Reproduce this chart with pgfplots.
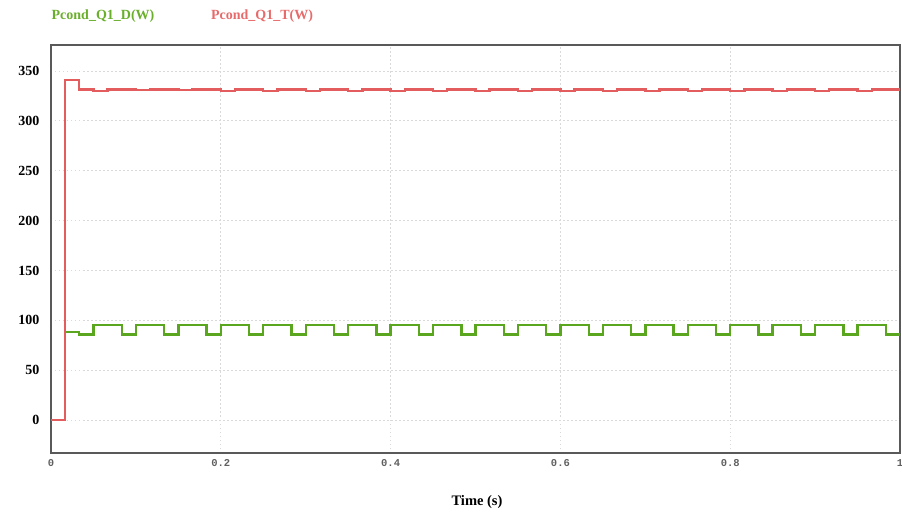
\documentclass[border=0pt]{standalone}
\usepackage{fontspec}
\setmainfont{Liberation Serif}
\setmonofont{Liberation Mono}
\usepackage{pgfplots}
\pgfplotsset{compat=1.18}
\definecolor{dgreen}{HTML}{5BA61F}
\definecolor{dred}{HTML}{E35D5F}
\definecolor{lgreen}{HTML}{6AAF2C}
\definecolor{lred}{HTML}{E86B6B}
\begin{document}
\begin{tikzpicture}[x=1pt,y=1pt]
\path[use as bounding box] (-51,-61) rectangle (851,453);
\begin{axis}[
  at={(0,0)}, anchor=south west,
  scale only axis, width=849pt, height=408pt,
  xmin=0, xmax=1, ymin=-33, ymax=376,
  xtick={0,0.2,0.4,0.6,0.8,1},
  ytick={0,50,100,150,200,250,300,350},
  grid=major,
  major grid style={dash pattern=on 1.5pt off 2.5pt, color=gray!30, line width=0.8pt},
  axis line style={draw=gray!70!black, line width=1.3pt},
  tick style={draw=none},
  /pgf/number format/assume math mode=true,
  xticklabel style={font=\ttfamily\bfseries\fontsize{10.5}{10.5}\selectfont, text=gray!75!black, yshift=-3pt},
  yticklabel style={font=\bfseries\fontsize{14}{14}\selectfont, xshift=-8pt},
]
% diode conduction loss
\addplot[const plot, color=dgreen, line width=2.4pt] coordinates {
(0,0) (0.01667,88.2) (0.03333,85.8) (0.05,95.5)
(0.08333,85.8) (0.1,95.5)
(0.13333,85.8) (0.15,95.5)
(0.18333,85.8) (0.2,95.5)
(0.23333,85.8) (0.25,95.5)
(0.28333,85.8) (0.3,95.5)
(0.33333,85.8) (0.35,95.5)
(0.38333,85.8) (0.4,95.5)
(0.43333,85.8) (0.45,95.5)
(0.48333,85.8) (0.5,95.5)
(0.53333,85.8) (0.55,95.5)
(0.58333,85.8) (0.6,95.5)
(0.63333,85.8) (0.65,95.5)
(0.68333,85.8) (0.7,95.5)
(0.73333,85.8) (0.75,95.5)
(0.78333,85.8) (0.8,95.5)
(0.83333,85.8) (0.85,95.5)
(0.88333,85.8) (0.9,95.5)
(0.93333,85.8) (0.95,95.5)
(0.98333,85.8) (1,85.8)
};
% transistor conduction loss
\addplot[const plot, color=dred, line width=2.4pt] coordinates {
(0,0) (0.01667,341) (0.03333,331.3)
(0.05,330) (0.06667,331.5)
(0.1,330.6) (0.11667,331.5)
(0.15,330.6) (0.16667,331.5)
(0.2,330) (0.21667,331.5)
(0.25,330) (0.26667,331.5)
(0.3,330) (0.31667,331.5)
(0.35,330) (0.36667,331.5)
(0.4,330) (0.41667,331.5)
(0.45,330) (0.46667,331.5)
(0.5,330) (0.51667,331.5)
(0.55,330) (0.56667,331.5)
(0.6,330) (0.61667,331.5)
(0.65,330) (0.66667,331.5)
(0.7,330) (0.71667,331.5)
(0.75,330) (0.76667,331.5)
(0.8,330) (0.81667,331.5)
(0.85,330) (0.86667,331.5)
(0.9,330) (0.91667,331.5)
(0.95,330) (0.96667,331.5)
(1,331.5)
};
\end{axis}
\node[font=\bfseries\fontsize{14}{14}\selectfont, text=lgreen] at (52,437) {Pcond\_Q1\_D(W)};
\node[font=\bfseries\fontsize{14}{14}\selectfont, text=lred] at (211,437) {Pcond\_Q1\_T(W)};
\node[font=\bfseries\fontsize{14.5}{14.5}\selectfont] at (426,-49) {Time (s)};
\end{tikzpicture}
\end{document}
